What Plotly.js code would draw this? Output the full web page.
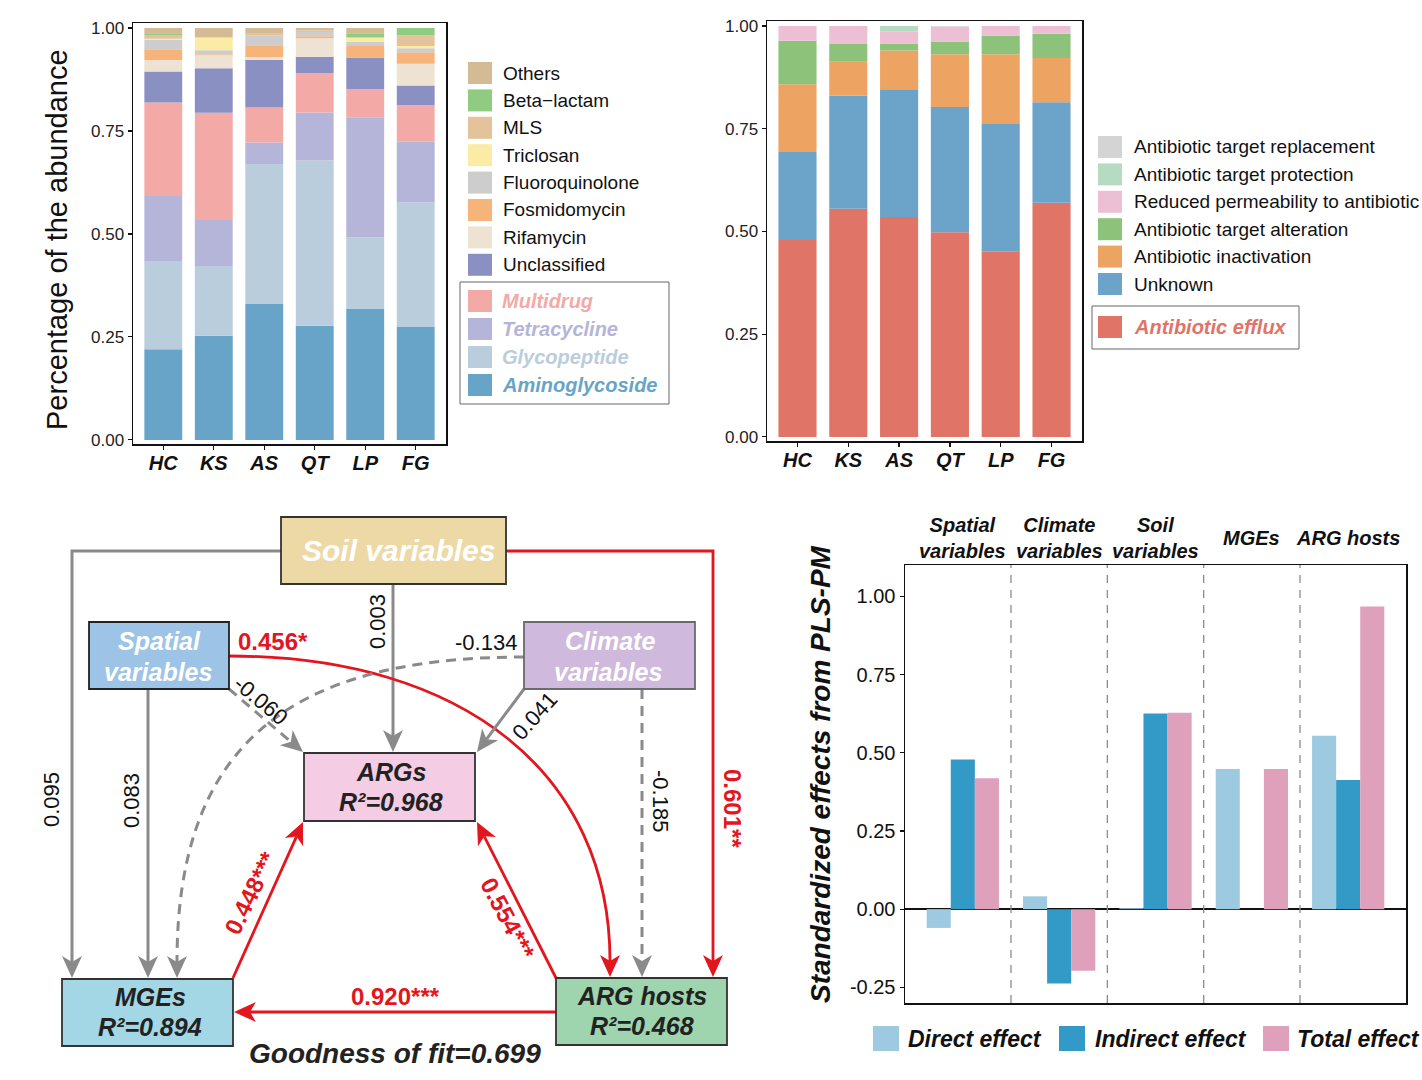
<!DOCTYPE html>
<html><head><meta charset="utf-8">
<script src="https://cdn.plot.ly/plotly-3.0.1.min.js"></script>
<style>html,body{margin:0;padding:0;background:#fff}</style>
</head><body><div id="chart" style="width:1422px;height:1080px"></div>
<script>
// ================= DATA =================
const samples = ['HC','KS','AS','QT','LP','FG'];

// Panel A: ARG classes (stacked bottom -> top)
const aminoglycoside  = [0.220,0.253,0.330,0.277,0.319,0.275];
const glycopeptide    = [0.214,0.169,0.340,0.401,0.173,0.301];
const tetracycline    = [0.158,0.112,0.052,0.117,0.291,0.148];
const multidrug       = [0.227,0.260,0.085,0.095,0.068,0.089];
const unclassified    = [0.075,0.108,0.115,0.040,0.077,0.047];
const rifamycin       = [0.028,0.032,0.007,0.045,0.000,0.053];
const fosmidomycin    = [0.026,0.002,0.027,0.005,0.028,0.028];
const fluoroquinolone = [0.024,0.010,0.025,0.010,0.010,0.010];
const triclosan       = [0.002,0.031,0.000,0.000,0.011,0.005];
const mls             = [0.009,0.000,0.005,0.004,0.000,0.026];
const betaLactam      = [0.004,0.000,0.000,0.000,0.010,0.018];
const others          = [0.013,0.023,0.014,0.006,0.013,0.000];
const classNames = ['Aminoglycoside','Glycopeptide','Tetracycline','Multidrug','Unclassified','Rifamycin',
  'Fosmidomycin','Fluoroquinolone','Triclosan','MLS','Beta\u2212lactam','Others'];

// Panel B: resistance mechanisms (stacked bottom -> top)
const efflux       = [0.479,0.555,0.535,0.498,0.452,0.570];
const unknownMech  = [0.214,0.275,0.311,0.305,0.311,0.244];
const inactivation = [0.165,0.083,0.094,0.128,0.168,0.108];
const alteration   = [0.106,0.043,0.017,0.031,0.046,0.059];
const reducedPerm  = [0.036,0.044,0.029,0.036,0.023,0.019];
const protection   = [0.000,0.000,0.014,0.000,0.000,0.000];
const replacement  = [0.000,0.000,0.000,0.002,0.000,0.000];
const mechNames = ['Antibiotic efflux','Unknown','Antibiotic inactivation','Antibiotic target alteration',
  'Reduced permeability to antibiotic','Antibiotic target protection','Antibiotic target replacement'];

// Panel D: PLS-PM effects
const effectCats = ['Spatial variables','Climate variables','Soil variables','MGEs','ARG hosts'];
const effectHeaders = ['Spatial<br>variables','Climate<br>variables','Soil<br>variables','MGEs','ARG hosts'];
const directEffect   = [-0.060, 0.041, 0.003, 0.448, 0.554];
const indirectEffect = [ 0.478,-0.238, 0.625, 0.000, 0.413];
const totalEffect    = [ 0.418,-0.197, 0.628, 0.448, 0.967];
const effectNames = ['Direct effect','Indirect effect','Total effect'];

// Panel C: path model
const nodeLabels = ['Soil variables','Spatial variables','Climate variables','ARGs','MGEs','ARG hosts'];
const r2Values = [null,null,null,0.968,0.894,0.468];
const pathLabels = ['0.095','0.003','0.601**','0.083','-0.060','0.456*','0.041','-0.134','-0.185','0.448***','0.554***','0.920***'];
const goodnessOfFit = 0.699;

// ================= STYLE =================
const W = 1422, H = 1080;
const F = 'Liberation Sans, Arial, Helvetica, sans-serif';
const RED = '#E3151E', GRAY = '#8A8A8A';
const classColors = ['#67A4C8','#BACDDC','#B5B4D9','#F3A9A6','#8B90C3','#EEE3D3','#F6B47B','#CDCDCD','#FBEBA5','#E4C39C','#90CB82','#D5BA96'];
const mechColors = ['#E07467','#6BA3C9','#EDA462','#8DC27A','#EDBFD4','#B7DBC2','#D4D4D4'];
const effectColors = ['#9ECAE1','#3399C7','#DEA0BA'];

const px = x => x / W, py = y => 1 - y / H;
const bi = s => '<b><i>' + s + '</i></b>';
const shapes = [], annotations = [];
function ann(text, x, y, o) {
  o = o || {};
  annotations.push({text, x: px(x), y: py(y), xref: 'paper', yref: 'paper', showarrow: false,
    xanchor: o.xanchor || 'center', yanchor: o.yanchor || 'middle', textangle: o.angle || 0,
    font: {family: F, size: o.size || 18, color: o.color || '#111'}});
}
function rect(x0, y0, x1, y1, fill, lc, lw) {
  shapes.push({type: 'rect', xref: 'paper', yref: 'paper', x0: px(x0), x1: px(x1), y0: py(y1), y1: py(y0),
    fillcolor: fill, line: {color: lc || 'rgba(0,0,0,0)', width: lw || 0}});
}
const pt = (x, y) => px(x).toFixed(5) + ',' + py(y).toFixed(5);

// ================= TRACES =================
const traces = [];
function stacked(valuesList, colors, xa, ya, grp) {
  let cum = samples.map(() => 0);
  valuesList.forEach((vals, i) => {
    traces.push({type: 'bar', x: samples, y: vals, base: cum.slice(), offsetgroup: grp,
      marker: {color: colors[i], line: {width: 0}}, xaxis: xa, yaxis: ya, showlegend: false, hoverinfo: 'skip'});
    cum = cum.map((c, j) => c + vals[j]);
  });
}
stacked([aminoglycoside, glycopeptide, tetracycline, multidrug, unclassified, rifamycin, fosmidomycin,
  fluoroquinolone, triclosan, mls, betaLactam, others], classColors, 'x', 'y', 'a');
stacked([efflux, unknownMech, inactivation, alteration, reducedPerm, protection, replacement], mechColors, 'x2', 'y2', 'b');
[directEffect, indirectEffect, totalEffect].forEach((vals, i) => {
  traces.push({type: 'bar', x: effectCats, y: vals, marker: {color: effectColors[i], line: {width: 0}},
    xaxis: 'x3', yaxis: 'y3', showlegend: false, hoverinfo: 'skip', name: effectNames[i]});
});

// ================= LEGENDS =================
const legA = [11,10,9,8,7,6,5,4];
legA.forEach((ci, k) => {
  const y = 73 + k * 27.4;
  rect(468, y - 11, 492, y + 11, classColors[ci]);
  ann(classNames[ci], 501, y, {xanchor: 'left', size: 19});
});
[3,2,1,0].forEach((ci, k) => {
  const y = 301 + k * 28;
  rect(468, y - 11, 492, y + 11, classColors[ci]);
  ann(bi(classNames[ci]), 500, y, {xanchor: 'left', size: 20, color: classColors[ci]});
});
rect(460, 282, 669, 404, 'rgba(0,0,0,0)', '#666', 1);
[6,5,4,3,2,1].forEach((ci, k) => {
  const y = 147 + k * 27.4;
  rect(1098, y - 11, 1122, y + 11, mechColors[ci]);
  ann(mechNames[ci], 1132, y, {xanchor: 'left', size: 19});
});
rect(1098, 316, 1122, 338, mechColors[0]);
ann(bi(mechNames[0]), 1132, 327, {xanchor: 'left', size: 20, color: mechColors[0]});
rect(1092, 306, 1299, 349, 'rgba(0,0,0,0)', '#666', 1);
const legDx = [[873, 906], [1059, 1093], [1263, 1295]];
effectNames.forEach((n, i) => {
  rect(legDx[i][0], 1026, legDx[i][0] + 26, 1051, effectColors[i]);
  ann(bi(n), legDx[i][1], 1039, {xanchor: 'left', size: 23});
});

// axis titles
ann('Percentage of the abundance', 57, 240, {angle: -90, size: 29, color: '#111'});
ann(bi('Standardized effects from PLS-PM'), 820, 774, {angle: -90, size: 28, color: '#111'});

// Panel D headers
effectCats.forEach((c, i) => {
  annotations.push({text: bi(effectHeaders[i]), x: c, xref: 'x3', y: py(538), yref: 'paper', showarrow: false,
    xanchor: 'center', yanchor: 'middle', font: {family: F, size: 20, color: '#111'}});
});
[0.5, 1.5, 2.5, 3.5].forEach(s => {
  shapes.push({type: 'line', xref: 'x3', yref: 'y3 domain', x0: s, x1: s, y0: 0, y1: 1,
    line: {color: '#8c8c8c', width: 1.3, dash: '8px,7px'}});
});

// ================= PATH DIAGRAM =================
function head(tip, dir, color) {
  const len = Math.hypot(dir[0], dir[1]);
  const ux = dir[0] / len, uy = dir[1] / len, nx = -uy, ny = ux;
  const L = 22, Wd = 10, N = 6;
  const b1 = [tip[0] - L * ux + Wd * nx, tip[1] - L * uy + Wd * ny];
  const b2 = [tip[0] - L * ux - Wd * nx, tip[1] - L * uy - Wd * ny];
  const nt = [tip[0] - (L - N) * ux, tip[1] - (L - N) * uy];
  shapes.push({type: 'path', xref: 'paper', yref: 'paper',
    path: 'M' + pt(...tip) + 'L' + pt(...b1) + 'L' + pt(...nt) + 'L' + pt(...b2) + 'Z',
    fillcolor: color, line: {width: 0}});
  return nt;
}
function polyEdge(pts, color, dash) {
  const n = pts.length;
  const tip = pts[n - 1], prev = pts[n - 2];
  const nt = head(tip, [tip[0] - prev[0], tip[1] - prev[1]], color);
  const all = pts.slice(0, n - 1).concat([nt]);
  shapes.push({type: 'path', xref: 'paper', yref: 'paper',
    path: 'M' + all.map(p => pt(...p)).join('L'),
    line: {color: color, width: color === RED ? 2.8 : 3, dash: dash ? '10px,7px' : 'solid'}});
}
function curveEdge(p0, p1, p2, tip, color, dash) {
  const nt = head(tip, [0, 1], color);
  shapes.push({type: 'path', xref: 'paper', yref: 'paper',
    path: 'M' + pt(...p0) + 'C' + pt(...p1) + ' ' + pt(...p2) + ' ' + pt(...nt),
    line: {color: color, width: color === RED ? 2.8 : 3, dash: dash ? '10px,7px' : 'solid'}});
}
polyEdge([[281,551],[72,551],[72,978]], GRAY, false);        // soil -> MGEs
polyEdge([[393,584],[393,752]], GRAY, false);                 // soil -> ARGs
polyEdge([[506,551],[713,551],[713,977]], RED, false);        // soil -> hosts
polyEdge([[148,689],[148,978]], GRAY, false);                 // spatial -> MGEs
polyEdge([[229,689],[303,752]], GRAY, true);                  // spatial -> ARGs
curveEdge([229,656],[465,656],[610,775],[610,977], RED, false); // spatial -> hosts
polyEdge([[524,689],[477,752]], GRAY, false);                 // climate -> ARGs
curveEdge([524,657],[281,657],[177,752],[177,978], GRAY, true); // climate -> MGEs
polyEdge([[642,689],[642,977]], GRAY, true);                  // climate -> hosts
polyEdge([[233,978],[303,822]], RED, false);                  // MGEs -> ARGs
polyEdge([[556,978],[477,822]], RED, false);                  // hosts -> ARGs
polyEdge([[556,1012],[234,1012]], RED, false);                // hosts -> MGEs

const nodeBoxes = [[281,517,506,584],[89,622,229,689],[524,622,695,689],[304,753,475,821],[62,979,233,1046],[556,978,727,1045]];
const nodeFills = ['#EDD9A6','#9DC3E6','#CFB9DC','#F4CDE4','#A3D7E5','#9ED4AE'];
const nodeLines = ['#333','#222','#6b6b6b','#333','#333','#333'];
nodeBoxes.forEach((b, i) => rect(b[0], b[1], b[2], b[3], nodeFills[i], nodeLines[i], 1.8));
ann(bi(nodeLabels[0]), 398, 550, {size: 30, color: '#FFFFFF'});
ann(bi('Spatial'), 159, 641, {size: 25, color: '#FFFFFF'});
ann(bi('variables'), 158, 672, {size: 25, color: '#FFFFFF'});
ann(bi('Climate'), 610, 641, {size: 25, color: '#FFFFFF'});
ann(bi('variables'), 608, 672, {size: 25, color: '#FFFFFF'});
[[3,391,772,802],[4,150,997,1027],[5,642,996,1026]].forEach(d => {
  ann(bi(nodeLabels[d[0]]), d[1], d[2], {size: 25, color: '#222'});
  ann(bi('R\u00B2=' + r2Values[d[0]].toFixed(3)), d[1], d[3], {size: 25, color: '#222'});
});
ann(bi('Goodness of fit=' + goodnessOfFit.toFixed(3)), 395, 1053, {size: 28, color: '#222'});

const labelPos = [[51,800,-90],[377,622,-90],[733,809,90],[131,801,-90],[261,700,40],[273,641,0],
  [534,716,-48],[486,642,0],[661,801,90],[250,893,-64],[508,918,62],[395,996,0]];
pathLabels.forEach((t, i) => {
  const sig = t.indexOf('*') >= 0;
  const p = labelPos[i];
  ann(sig ? '<b>' + t + '</b>' : t, p[0], p[1], {angle: p[2], size: sig ? 24 : 22, color: sig ? RED : '#111'});
});

// ================= LAYOUT =================
const baseAxis = {showline: true, mirror: true, linecolor: '#111', linewidth: 1.5, ticks: 'outside', ticklen: 4,
  tickcolor: '#111', tickwidth: 1.2, showgrid: false, zeroline: false, fixedrange: true};
const xTickFont = {family: F, size: 20, color: '#111', weight: 'bold', style: 'italic'};
const yt = [0, 0.25, 0.5, 0.75, 1];
const ytt = yt.map(v => v.toFixed(2));
const layout = {
  width: W, height: H, margin: {l: 0, r: 0, t: 0, b: 0},
  paper_bgcolor: '#fff', plot_bgcolor: '#fff', barmode: 'group', bargap: 0.25, bargroupgap: 0,
  showlegend: false, font: {family: F},
  xaxis: Object.assign({}, baseAxis, {domain: [133 / W, 446 / W], anchor: 'y', type: 'category', range: [-0.6, 5.6],
    tickfont: xTickFont, ticklabelstandoff: -4}),
  yaxis: Object.assign({}, baseAxis, {domain: [1 - 444 / H, 1 - 23 / H], anchor: 'x', range: [-0.01, 1.012],
    tickmode: 'array', tickvals: yt, ticktext: ytt, tickfont: {family: F, size: 17, color: '#222'}}),
  xaxis2: Object.assign({}, baseAxis, {domain: [767 / W, 1082 / W], anchor: 'y2', type: 'category', range: [-0.6, 5.6],
    tickfont: xTickFont, ticklabelstandoff: -4}),
  yaxis2: Object.assign({}, baseAxis, {domain: [1 - 441 / H, 1 - 21 / H], anchor: 'x2', range: [-0.01, 1.012],
    tickmode: 'array', tickvals: yt, ticktext: ytt, tickfont: {family: F, size: 17, color: '#222'}}),
  xaxis3: Object.assign({}, baseAxis, {domain: [905 / W, 1406 / W], anchor: 'y3', type: 'category', range: [-0.6, 4.6],
    ticks: '', showticklabels: false}),
  yaxis3: Object.assign({}, baseAxis, {domain: [1 - 1003 / H, 1 - 565 / H], anchor: 'x3', range: [-0.3, 1.1],
    tickmode: 'array', tickvals: [-0.25, 0, 0.25, 0.5, 0.75, 1], ticktext: ['-0.25', '0.00', '0.25', '0.50', '0.75', '1.00'],
    tickfont: {family: F, size: 20, color: '#111'}, zeroline: true, zerolinecolor: '#111', zerolinewidth: 1.5}),
  shapes: shapes, annotations: annotations
};
Plotly.newPlot('chart', traces, layout, {displayModeBar: false, staticPlot: true});
</script></body></html>
